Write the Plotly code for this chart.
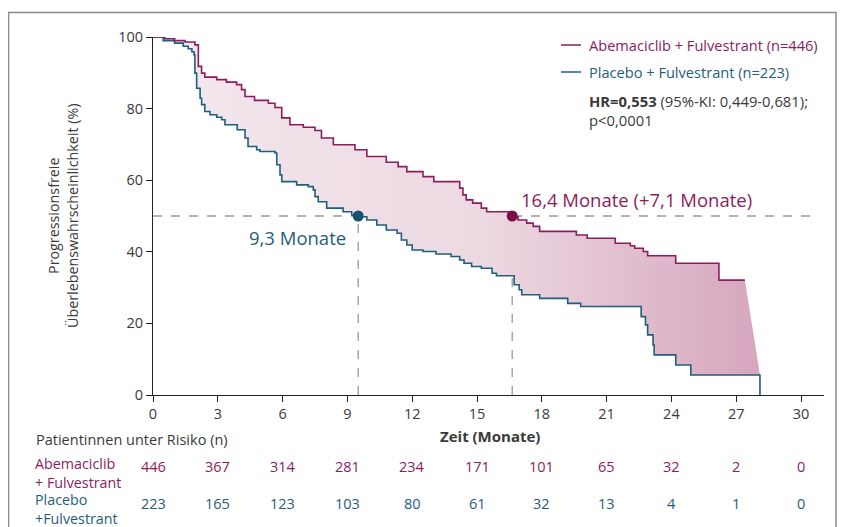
import plotly.graph_objects as go

# ---------------- data ----------------
abema_t = [0, 0.55, 1.0, 1.48, 1.94, 2.1, 2.25, 2.4, 2.95, 3.4, 3.87, 4.1, 4.26, 4.7, 5.34, 5.65,
           5.96, 6.34, 6.96, 7.5, 7.8, 8.35, 9.35, 9.9, 10.8, 11.35, 11.75, 12.5, 13.0, 14.2,
           14.35, 14.5, 14.8, 15.2, 15.45, 16.63, 16.9, 17.3, 17.6, 17.9, 19.6, 20.1, 21.4,
           22.1, 22.3, 22.7, 22.9, 24.2, 26.2, 27.4]
abema_s = [100, 99.5, 99.0, 98.6, 97.8, 91.8, 89.9, 88.8, 88.1, 87.4, 86.7, 85.3, 83.4, 82.3, 81.5, 80.3,
           77.4, 75.5, 74.8, 73.9, 71.8, 69.9, 68.5, 66.6, 65.0, 63.8, 62.4, 61.0, 59.6, 57.8,
           55.9, 54.5, 53.6, 52.2, 51.2, 49.8, 48.9, 48.0, 47.1, 45.7, 44.7, 43.8, 42.4,
           41.7, 41.0, 40.1, 38.9, 36.8, 32.1, 32.1]

placebo_t = [0, 0.47, 1.0, 1.4, 1.63, 1.8, 1.9, 1.94, 2.02, 2.18, 2.25, 2.4, 2.64, 2.95, 3.18, 3.33,
             3.9, 4.26, 4.4, 4.8, 4.95, 5.65, 5.73, 5.88, 5.96, 6.65, 7.19, 7.42, 7.5, 7.65, 8.04,
             8.8, 9.2, 9.5, 9.9, 10.36, 10.8, 11.3, 11.5, 11.75, 12.0, 12.5, 13.1, 13.8, 14.2,
             14.4, 14.75, 15.2, 15.7, 15.9, 16.72, 16.95, 17.07, 17.9, 19.2, 19.8, 22.6, 22.8,
             22.9, 23.15, 23.2, 24.2, 24.9, 28.1]
placebo_s = [100, 99.0, 98.3, 97.4, 96.7, 95.9, 95.0, 89.9, 85.7, 82.9, 81.1, 79.2, 78.3, 77.6, 76.9, 75.5,
             74.1, 71.8, 69.4, 68.5, 68.0, 67.6, 64.3, 61.5, 59.6, 58.7, 58.2, 57.3, 55.4, 54.0, 52.2,
             51.2, 50.3, 49.8, 48.9, 47.5, 46.1, 45.2, 43.3, 41.9, 40.5, 40.1, 39.4, 38.7, 37.7,
             36.8, 35.9, 35.4, 34.0, 33.3, 30.8, 29.4, 28.0, 27.0, 25.6, 24.7, 21.9, 19.6,
             16.8, 14.0, 11.2, 8.4, 5.6, 0.0]

median_abema = 16.63   # drawn position
median_placebo = 9.5   # drawn position

x_ticks = [0, 3, 6, 9, 12, 15, 18, 21, 24, 27, 30]
y_ticks = [0, 20, 40, 60, 80, 100]
risk_abema = [446, 367, 314, 281, 234, 171, 101, 65, 32, 2, 0]
risk_placebo = [223, 165, 123, 103, 80, 61, 32, 13, 4, 1, 0]

PURPLE = "#8c1d5d"
PURPLE_DOT = "#7a0f4c"
BLUE = "#1f5e7c"
BLUE_DOT = "#16506c"
GRAY_TXT = "#3a3a3a"
FONT = "Open Sans"


def steps(t, s):
    xs, ys = [t[0]], [s[0]]
    for i in range(1, len(t)):
        xs += [t[i], t[i]]
        ys += [s[i - 1], s[i]]
    return xs, ys


ax, ay = steps(abema_t, abema_s)
px_, py_ = steps(placebo_t, placebo_s)
px_, py_ = px_[:-1], py_[:-1]   # drop the final vertical drop to 0
fill_x = ax + px_[::-1]
fill_y = ay + py_[::-1]

fig = go.Figure()
fig.add_trace(go.Scatter(
    x=fill_x, y=fill_y, mode="lines", fill="toself", line=dict(width=0),
    fillgradient=dict(type="horizontal",
                      colorscale=[[0, "#f4e8ee"], [0.55, "#ecd8e1"], [1, "#d6a6bd"]]),
    hoverinfo="skip", showlegend=False))
fig.add_trace(go.Scatter(x=placebo_t, y=placebo_s, mode="lines", line=dict(color=BLUE, width=1.6, shape="hv"),
                         showlegend=False))
fig.add_trace(go.Scatter(x=abema_t, y=abema_s, mode="lines", line=dict(color=PURPLE, width=1.6, shape="hv"),
                         showlegend=False))

# median guide lines
dash = dict(color="#9a9a9a", width=1.3, dash="dash")
fig.add_shape(type="line", x0=0, x1=30.65, y0=50, y1=50, line=dash, layer="below")
fig.add_shape(type="line", x0=median_placebo, x1=median_placebo, y0=0, y1=50, line=dash, layer="below")
fig.add_shape(type="line", x0=median_abema, x1=median_abema, y0=0, y1=50, line=dash, layer="below")
fig.add_trace(go.Scatter(x=[median_placebo], y=[50], mode="markers",
                         marker=dict(color=BLUE_DOT, size=11), showlegend=False))
fig.add_trace(go.Scatter(x=[median_abema], y=[50], mode="markers",
                         marker=dict(color=PURPLE_DOT, size=11), showlegend=False))

OFF = 8  # page body margin
L, R, T, B = 153 - OFF, 824 - OFF, 37 - OFF, 395 - OFF
W, H = 850 - OFF, 527 - OFF


def pxx(p):
    return (p - OFF - L) / (R - L)


def pyy(p):
    return (B - (p - OFF)) / (B - T)


# outer frame
fig.add_shape(type="rect", xref="paper", yref="paper", x0=pxx(8.5), x1=pxx(836), y0=pyy(545), y1=pyy(12.5),
              line=dict(color="#8a8a8a", width=1.5))

# legend
for yy, col, txt in [(45, PURPLE, "Abemaciclib + Fulvestrant (n=446)"),
                     (72, BLUE, "Placebo + Fulvestrant (n=223)")]:
    fig.add_shape(type="line", xref="paper", yref="paper", x0=pxx(561), x1=pxx(581), y0=pyy(yy), y1=pyy(yy),
                  line=dict(color=col, width=1.5))
    fig.add_annotation(xref="paper", yref="paper", x=pxx(587), y=pyy(yy), text=txt, showarrow=False,
                       xanchor="left", yanchor="middle", font=dict(color=col, size=14.6, family=FONT))
fig.add_annotation(xref="paper", yref="paper", x=pxx(587), y=pyy(110),
                   text="<b>HR=0,553</b> (95%-KI: 0,449-0,681);<br>p<0,0001", showarrow=False,
                   xanchor="left", yanchor="middle", align="left",
                   font=dict(color=GRAY_TXT, size=14.8, family=FONT))

# median labels
fig.add_annotation(xref="paper", yref="paper", x=pxx(348), y=pyy(237), text="9,3 Monate", showarrow=False,
                   xanchor="right", yanchor="middle", font=dict(color=BLUE, size=18.5, family=FONT))
fig.add_annotation(xref="paper", yref="paper", x=pxx(519), y=pyy(199),
                   text="16,4 Monate (+7,1 Monate)", showarrow=False,
                   xanchor="left", yanchor="middle", font=dict(color=PURPLE, size=18.5, family=FONT))

# y title
fig.add_annotation(xref="paper", yref="paper", x=pxx(63), y=pyy(216),
                   text="Progressionsfreie<br>Überlebenswahrscheinlichkeit (%)", showarrow=False,
                   textangle=-90, xanchor="center", yanchor="middle",
                   font=dict(color=GRAY_TXT, size=14.3, family=FONT))

# x title
fig.add_annotation(xref="paper", yref="paper", x=pxx(490), y=pyy(436), text="<b>Zeit (Monate)</b>",
                   showarrow=False, xanchor="center", yanchor="middle",
                   font=dict(color=GRAY_TXT, size=15, family=FONT))

# risk table
fig.add_annotation(xref="paper", yref="paper", x=pxx(34), y=pyy(439), text="Patientinnen unter Risiko (n)",
                   showarrow=False, xanchor="left", yanchor="middle",
                   font=dict(color=GRAY_TXT, size=14.5, family=FONT))
fig.add_annotation(xref="paper", yref="paper", x=pxx(34), y=pyy(473), text="Abemaciclib<br>+ Fulvestrant",
                   showarrow=False, xanchor="left", yanchor="middle", align="left", borderpad=0,
                   font=dict(color=PURPLE, size=14.3, family=FONT))
fig.add_annotation(xref="paper", yref="paper", x=pxx(34), y=pyy(509), text="Placebo<br>+Fulvestrant",
                   showarrow=False, xanchor="left", yanchor="middle", align="left", borderpad=0,
                   font=dict(color=BLUE, size=14.3, family=FONT))
for xt, ra, rp in zip(x_ticks, risk_abema, risk_placebo):
    fig.add_annotation(x=xt, xref="x", yref="paper", y=pyy(466), text=str(ra), showarrow=False,
                       xanchor="center", yanchor="middle", font=dict(color=PURPLE, size=14.5, family=FONT))
    fig.add_annotation(x=xt, xref="x", yref="paper", y=pyy(503), text=str(rp), showarrow=False,
                       xanchor="center", yanchor="middle", font=dict(color=BLUE, size=14.5, family=FONT))

fig.update_layout(
    width=W, height=H, margin=dict(l=L, r=W - R, t=T, b=H - B),
    paper_bgcolor="white", plot_bgcolor="white",
    font=dict(family=FONT, color=GRAY_TXT, size=14),
    xaxis=dict(range=[0, (R - L) / 21.6], tickvals=x_ticks, ticktext=[str(v) for v in x_ticks],
               showgrid=False, zeroline=False, showline=True, linecolor="#222", linewidth=1,
               ticks="outside", ticklen=6, tickcolor="#222", tickfont=dict(size=14.5, color=GRAY_TXT)),
    yaxis=dict(range=[0, 100], tickvals=y_ticks, showgrid=False, zeroline=False, showline=True,
               linecolor="#222", linewidth=1, ticks="outside", ticklen=6, tickcolor="#222",
               tickfont=dict(size=14.5, color=GRAY_TXT)),
    showlegend=False,
)

fig.write_html("out.html")
